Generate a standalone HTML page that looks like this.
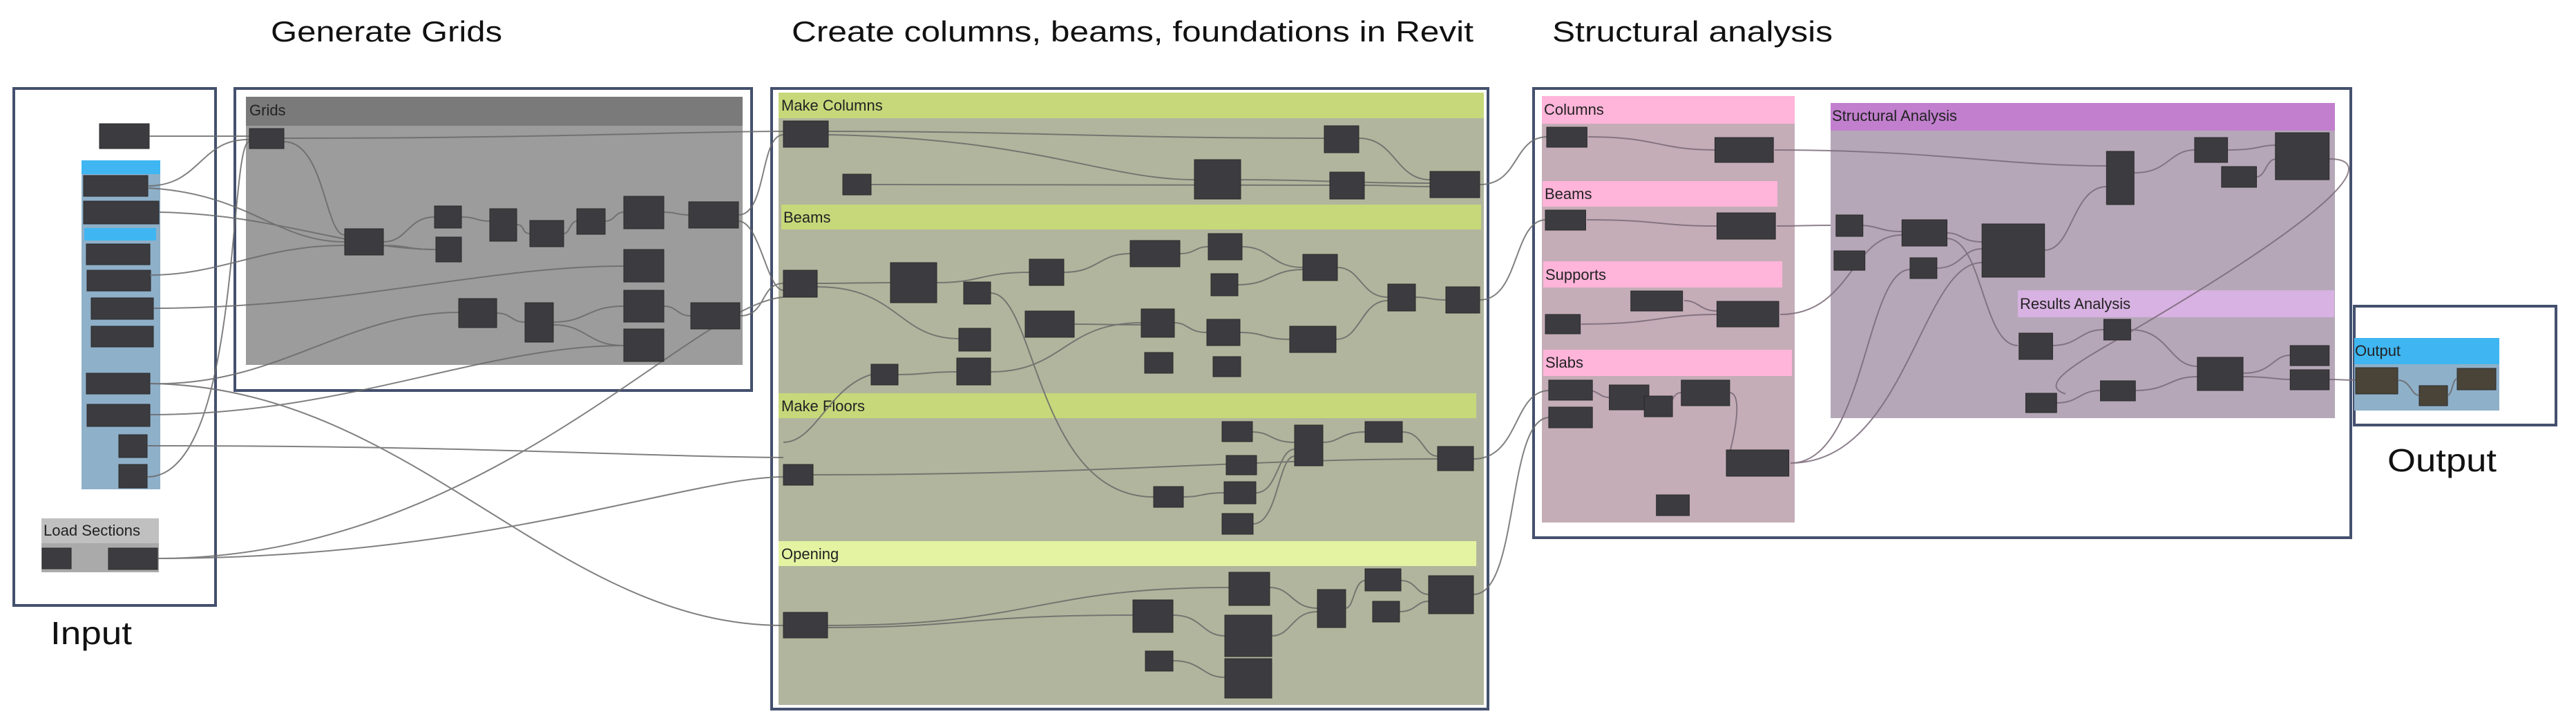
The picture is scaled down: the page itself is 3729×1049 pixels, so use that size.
<!DOCTYPE html>
<html><head><meta charset="utf-8"><style>
html,body{margin:0;padding:0;background:#fff;}
svg{display:block}
.n{fill:#3c3c40;stroke:#2a2a2a;stroke-width:1}
.w{fill:none;stroke:#6a6a6a;stroke-width:2;opacity:.85}
.wp{fill:none;stroke:#7a6a78;stroke-width:2;opacity:.85}
.t{font-family:"Liberation Sans",sans-serif;fill:#111}
.g{font-family:"Liberation Sans",sans-serif;fill:#222;font-size:22px}
</style></head><body>
<svg width="3729" height="1049" viewBox="0 0 3729 1049" xmlns="http://www.w3.org/2000/svg">
<text class="t" x="392" y="60" font-size="42" textLength="335" lengthAdjust="spacingAndGlyphs">Generate Grids</text>
<text class="t" x="1146" y="60" font-size="42" textLength="987" lengthAdjust="spacingAndGlyphs">Create columns, beams, foundations in Revit</text>
<text class="t" x="2247" y="60" font-size="42" textLength="406" lengthAdjust="spacingAndGlyphs">Structural analysis</text>
<text class="t" x="73" y="932" font-size="46" textLength="118" lengthAdjust="spacingAndGlyphs">Input</text>
<text class="t" x="3456" y="682" font-size="46" textLength="158" lengthAdjust="spacingAndGlyphs">Output</text>

<rect x="20" y="128" width="292" height="748" fill="#fff" stroke="#44506e" stroke-width="4"/>
<rect x="118" y="232" width="114" height="476" fill="#8fb0c9"/>
<rect x="118" y="232" width="114" height="20" fill="#3fb6f2"/>
<rect x="122" y="330" width="104" height="18" fill="#3fb6f2"/>
<rect x="60" y="750" width="170" height="78" fill="#aaaaaa"/>
<rect x="60" y="750" width="170" height="36" fill="#c0c0c0"/>
<text class="g" x="63" y="775" textLength="140" lengthAdjust="spacingAndGlyphs">Load Sections</text>
<g>
<rect class="n" x="144" y="179" width="72" height="36"/>
<rect class="n" x="121" y="254" width="93" height="30"/>
<rect class="n" x="121" y="291" width="109" height="33"/>
<rect class="n" x="125" y="353" width="92" height="30"/>
<rect class="n" x="126" y="391" width="92" height="30"/>
<rect class="n" x="132" y="431" width="90" height="31"/>
<rect class="n" x="132" y="472" width="90" height="30"/>
<rect class="n" x="125" y="540" width="92" height="30"/>
<rect class="n" x="126" y="585" width="91" height="32"/>
<rect class="n" x="172" y="629" width="41" height="33"/>
<rect class="n" x="172" y="672" width="41" height="34"/>
<rect class="n" x="61" y="793" width="42" height="30"/>
<rect class="n" x="157" y="793" width="71" height="31"/>
</g>

<rect x="340" y="128" width="748" height="437" fill="#fff" stroke="#44506e" stroke-width="4"/>
<rect x="356" y="140" width="719" height="388" fill="#9c9c9c"/>
<rect x="356" y="140" width="719" height="42" fill="#7a7a7a"/>
<text class="g" x="361" y="167">Grids</text>

<rect x="1117" y="128" width="1037" height="898" fill="#fff" stroke="#44506e" stroke-width="4"/>
<rect x="1127" y="134" width="1021" height="886" fill="#b2b59d"/>
<rect x="1127" y="134" width="1021" height="37" fill="#c6d87a"/>
<rect x="1131" y="296" width="1013" height="36" fill="#c6d87a"/>
<rect x="1127" y="569" width="1010" height="36" fill="#c6d87a"/>
<rect x="1127" y="783" width="1010" height="36" fill="#e4f3a2"/>
<text class="g" x="1131" y="160">Make Columns</text>
<text class="g" x="1134" y="322">Beams</text>
<text class="g" x="1131" y="595">Make Floors</text>
<text class="g" x="1131" y="809">Opening</text>

<rect x="2220" y="128" width="1183" height="650" fill="#fff" stroke="#44506e" stroke-width="4"/>
<rect x="2232" y="139" width="366" height="617" fill="#c4adb7"/>
<rect x="2232" y="139" width="366" height="40" fill="#ffb4d9"/>
<rect x="2233" y="262" width="340" height="37" fill="#ffb4d9"/>
<rect x="2234" y="378" width="346" height="38" fill="#ffb4d9"/>
<rect x="2234" y="506" width="360" height="38" fill="#ffb4d9"/>
<text class="g" x="2235" y="166">Columns</text>
<text class="g" x="2236" y="288">Beams</text>
<text class="g" x="2237" y="405">Supports</text>
<text class="g" x="2237" y="532">Slabs</text>
<rect x="2650" y="149" width="730" height="456" fill="#b5a7b8"/>
<rect x="2650" y="149" width="730" height="40" fill="#c17fcd"/>
<text class="g" x="2652" y="175">Structural Analysis</text>
<rect x="2921" y="420" width="458" height="39" fill="#d8b2e2"/>
<text class="g" x="2924" y="447">Results Analysis</text>

<rect x="3408" y="443" width="292" height="172" fill="#fff" stroke="#44506e" stroke-width="4"/>
<rect x="3408" y="489" width="210" height="105" fill="#8fb0c9"/>
<rect x="3408" y="489" width="210" height="38" fill="#3fb6f2"/>
<text class="g" x="3409" y="515" fill="#113">Output</text>

<g class="w">
<path d="M216 197 C290 197 290 197 361 197"/>
<path d="M214 269 C290 269 290 200 361 202"/>
<path d="M214 272 C360 280 400 350 499 350"/>
<path d="M230 307 C400 310 500 360 631 361"/>
<path d="M217 398 C320 398 380 355 499 355"/>
<path d="M222 446 C500 446 700 385 903 385"/>
<path d="M217 555 C400 560 500 452 664 452"/>
<path d="M217 555 C600 560 800 905 1134 905"/>
<path d="M217 600 C500 600 700 500 903 500"/>
<path d="M213 645 C700 645 900 660 1134 662"/>
<path d="M213 690 C350 690 330 205 361 205"/>
<path d="M228 808 C700 808 1000 440 1134 430"/>
<path d="M228 808 C700 808 1000 690 1134 690"/>
<path d="M411 200 C800 200 1000 190 1134 190"/>
<path d="M411 205 C470 205 470 340 499 340"/>
<path d="M555 350 C590 350 590 314 629 314"/>
<path d="M555 355 C590 355 590 361 631 361"/>
<path d="M668 314 C690 314 690 320 709 320"/>
<path d="M748 325 C760 325 755 338 767 338"/>
<path d="M816 338 C825 338 825 320 835 320"/>
<path d="M876 320 C890 320 890 307 903 307"/>
<path d="M961 307 C980 307 980 311 997 311"/>
<path d="M719 453 C740 453 740 466 760 466"/>
<path d="M801 466 C850 466 850 443 903 443"/>
<path d="M801 470 C850 470 850 500 903 500"/>
<path d="M961 443 C980 443 980 457 1000 457"/>
<path d="M1069 311 C1110 311 1100 195 1134 195"/>
<path d="M1071 457 C1110 457 1100 410 1134 410"/>
<path d="M1069 320 C1100 320 1110 420 1134 420"/>
<path d="M1199 190 C1500 190 1600 200 1917 200"/>
<path d="M1199 195 C1500 200 1600 260 1729 260"/>
<path d="M1261 267 C1500 267 1700 268 1925 268"/>
<path d="M1796 260 C1900 260 1950 265 2070 265"/>
<path d="M1967 200 C2020 200 2020 260 2070 260"/>
<path d="M1975 268 C2020 268 2020 270 2070 270"/>
<path d="M1183 410 C1230 410 1240 409 1289 409"/>
<path d="M1183 415 C1300 415 1300 490 1388 490"/>
<path d="M1356 409 C1420 409 1420 394 1490 394"/>
<path d="M1540 394 C1590 394 1590 367 1636 367"/>
<path d="M1708 367 C1730 367 1730 357 1749 357"/>
<path d="M1798 357 C1840 357 1840 387 1886 387"/>
<path d="M1792 412 C1840 412 1840 390 1886 390"/>
<path d="M1936 387 C1970 387 1970 430 2009 430"/>
<path d="M2049 430 C2070 430 2070 434 2093 434"/>
<path d="M1300 542 C1340 542 1340 538 1385 538"/>
<path d="M1434 538 C1540 538 1540 467 1652 467"/>
<path d="M1555 469 C1600 469 1600 470 1652 470"/>
<path d="M1700 467 C1720 467 1720 481 1747 481"/>
<path d="M1795 481 C1830 481 1830 491 1867 491"/>
<path d="M1934 491 C1970 491 1970 435 2009 435"/>
<path d="M1261 542 C1200 560 1180 640 1134 640"/>
<path d="M1434 424 C1500 424 1500 719 1670 719"/>
<path d="M1177 687 C1600 687 1800 664 2081 664"/>
<path d="M1813 625 C1840 625 1840 640 1874 640"/>
<path d="M1915 640 C1940 640 1940 625 1976 625"/>
<path d="M2030 625 C2060 625 2060 660 2081 660"/>
<path d="M1713 719 C1740 719 1740 713 1772 713"/>
<path d="M1818 713 C1850 713 1850 650 1874 650"/>
<path d="M1814 758 C1850 758 1850 660 1874 660"/>
<path d="M1198 905 C1500 905 1500 850 1779 850"/>
<path d="M1198 908 C1400 908 1400 890 1640 890"/>
<path d="M1698 890 C1740 890 1740 920 1773 920"/>
<path d="M1838 850 C1870 850 1870 880 1907 880"/>
<path d="M1841 920 C1870 920 1870 885 1907 885"/>
<path d="M1948 880 C1960 880 1960 840 1976 840"/>
<path d="M2028 840 C2050 840 2050 860 2068 860"/>
<path d="M2026 885 C2050 885 2050 870 2068 870"/>
<path d="M1698 956 C1740 956 1740 980 1773 980"/>
<path d="M2142 267 C2200 267 2190 198 2240 198"/>
<path d="M2142 434 C2200 434 2190 318 2238 318"/>
<path d="M2133 664 C2200 664 2190 565 2243 565"/>
<path d="M2133 860 C2200 860 2180 604 2243 604"/>
</g>
<g class="wp">
<path d="M2299 198 C2400 198 2400 217 2483 217"/>
<path d="M2297 318 C2400 318 2400 327 2486 327"/>
<path d="M2289 469 C2400 469 2400 455 2486 455"/>
<path d="M2438 435 C2460 435 2460 450 2486 450"/>
<path d="M2569 217 C2800 217 2900 240 3050 240"/>
<path d="M2572 327 C2610 327 2610 326 2650 326"/>
<path d="M2577 455 C2680 455 2680 340 2753 340"/>
<path d="M2592 670 C2700 670 2700 390 2765 390"/>
<path d="M2592 670 C2760 670 2780 380 2869 380"/>
<path d="M2689 326 C2720 326 2720 335 2753 335"/>
<path d="M2818 337 C2840 337 2840 350 2869 350"/>
<path d="M2803 388 C2840 388 2840 360 2869 360"/>
<path d="M2960 362 C3000 362 3000 270 3050 270"/>
<path d="M3090 250 C3140 250 3140 217 3177 217"/>
<path d="M3225 217 C3270 217 3270 210 3295 210"/>
<path d="M3266 256 C3280 256 3280 230 3295 230"/>
<path d="M2818 345 C2870 345 2870 500 2921 500"/>
<path d="M2970 500 C3010 500 3010 477 3045 477"/>
<path d="M3084 477 C3140 477 3140 530 3181 530"/>
<path d="M2977 583 C3010 583 3010 565 3041 565"/>
<path d="M3091 565 C3140 565 3140 545 3181 545"/>
<path d="M3247 540 C3290 540 3290 514 3315 514"/>
<path d="M3247 545 C3290 545 3290 549 3315 549"/>
<path d="M3372 549 C3390 549 3390 550 3410 550"/>
<path d="M3372 230 C3430 230 3430 280 3050 500 C2980 540 2960 560 2990 570"/>
<path d="M2298 565 C2315 565 2315 575 2330 575"/>
<path d="M2414 588 C2420 588 2420 568 2434 568"/>
<path d="M2503 568 C2530 568 2500 670 2500 670"/>
</g>

<g>
<rect class="n" x="361" y="186" width="50" height="29"/>
<rect class="n" x="499" y="331" width="56" height="38"/>
<rect class="n" x="629" y="298" width="39" height="32"/>
<rect class="n" x="631" y="343" width="37" height="36"/>
<rect class="n" x="709" y="302" width="39" height="47"/>
<rect class="n" x="767" y="319" width="49" height="38"/>
<rect class="n" x="835" y="302" width="41" height="37"/>
<rect class="n" x="903" y="284" width="58" height="47"/>
<rect class="n" x="997" y="292" width="72" height="38"/>
<rect class="n" x="903" y="361" width="58" height="47"/>
<rect class="n" x="903" y="420" width="58" height="46"/>
<rect class="n" x="903" y="476" width="58" height="47"/>
<rect class="n" x="664" y="432" width="55" height="42"/>
<rect class="n" x="760" y="438" width="41" height="57"/>
<rect class="n" x="1000" y="438" width="71" height="38"/>
</g>
<g>
<rect class="n" x="1134" y="175" width="65" height="38"/>
<rect class="n" x="1220" y="252" width="41" height="30"/>
<rect class="n" x="1729" y="231" width="67" height="57"/>
<rect class="n" x="1917" y="182" width="50" height="39"/>
<rect class="n" x="1925" y="249" width="50" height="39"/>
<rect class="n" x="2070" y="248" width="72" height="38"/>
<rect class="n" x="1134" y="391" width="49" height="39"/>
<rect class="n" x="1289" y="380" width="67" height="58"/>
<rect class="n" x="1395" y="408" width="39" height="32"/>
<rect class="n" x="1490" y="375" width="50" height="38"/>
<rect class="n" x="1636" y="348" width="72" height="38"/>
<rect class="n" x="1749" y="338" width="49" height="38"/>
<rect class="n" x="1753" y="396" width="39" height="32"/>
<rect class="n" x="1886" y="368" width="50" height="38"/>
<rect class="n" x="2009" y="411" width="40" height="39"/>
<rect class="n" x="2093" y="415" width="49" height="38"/>
<rect class="n" x="1388" y="475" width="46" height="33"/>
<rect class="n" x="1484" y="450" width="71" height="38"/>
<rect class="n" x="1652" y="447" width="48" height="41"/>
<rect class="n" x="1747" y="462" width="48" height="38"/>
<rect class="n" x="1867" y="472" width="67" height="38"/>
<rect class="n" x="1657" y="510" width="41" height="30"/>
<rect class="n" x="1756" y="516" width="40" height="29"/>
<rect class="n" x="1261" y="527" width="39" height="30"/>
<rect class="n" x="1385" y="518" width="49" height="39"/>
<rect class="n" x="1769" y="610" width="44" height="29"/>
<rect class="n" x="1874" y="615" width="41" height="59"/>
<rect class="n" x="1976" y="610" width="54" height="30"/>
<rect class="n" x="1134" y="672" width="43" height="30"/>
<rect class="n" x="1775" y="659" width="44" height="28"/>
<rect class="n" x="2081" y="646" width="52" height="35"/>
<rect class="n" x="1670" y="704" width="43" height="30"/>
<rect class="n" x="1772" y="697" width="46" height="32"/>
<rect class="n" x="1769" y="743" width="45" height="30"/>
<rect class="n" x="1134" y="886" width="64" height="37"/>
<rect class="n" x="1779" y="828" width="59" height="48"/>
<rect class="n" x="1976" y="823" width="52" height="32"/>
<rect class="n" x="2068" y="833" width="65" height="55"/>
<rect class="n" x="1640" y="868" width="58" height="47"/>
<rect class="n" x="1907" y="853" width="41" height="55"/>
<rect class="n" x="1987" y="870" width="39" height="30"/>
<rect class="n" x="1773" y="890" width="68" height="60"/>
<rect class="n" x="1658" y="942" width="40" height="29"/>
<rect class="n" x="1773" y="953" width="68" height="57"/>
</g>
<g transform="matrix(0.974,0,0,1,2200,0)">
<rect class="n" x="40" y="184" width="60" height="29"/>
<rect class="n" x="290" y="199" width="87" height="36"/>
<rect class="n" x="38" y="304" width="60" height="29"/>
<rect class="n" x="293" y="308" width="87" height="38"/>
<rect class="n" x="165" y="421" width="77" height="29"/>
<rect class="n" x="38" y="455" width="52" height="28"/>
<rect class="n" x="293" y="436" width="92" height="37"/>
<rect class="n" x="43" y="550" width="65" height="29"/>
<rect class="n" x="43" y="589" width="65" height="30"/>
<rect class="n" x="133" y="557" width="59" height="36"/>
<rect class="n" x="185" y="573" width="42" height="30"/>
<rect class="n" x="240" y="550" width="72" height="37"/>
<rect class="n" x="307" y="651" width="93" height="38"/>
<rect class="n" x="203" y="716" width="49" height="30"/>
<rect class="n" x="470" y="311" width="40" height="31"/>
<rect class="n" x="467" y="363" width="46" height="28"/>
<rect class="n" x="568" y="318" width="67" height="38"/>
<rect class="n" x="580" y="373" width="40" height="30"/>
<rect class="n" x="687" y="324" width="93" height="77"/>
<rect class="n" x="872" y="219" width="41" height="77"/>
<rect class="n" x="1003" y="199" width="49" height="36"/>
<rect class="n" x="1043" y="241" width="52" height="30"/>
<rect class="n" x="1123" y="192" width="80" height="68"/>
<rect class="n" x="742" y="482" width="50" height="38"/>
<rect class="n" x="868" y="462" width="40" height="30"/>
<rect class="n" x="752" y="569" width="46" height="28"/>
<rect class="n" x="863" y="551" width="52" height="29"/>
<rect class="n" x="1007" y="517" width="68" height="48"/>
<rect class="n" x="1145" y="500" width="58" height="29"/>
<rect class="n" x="1145" y="535" width="58" height="29"/>
</g>
<rect x="3410" y="532" width="61" height="38" fill="#4a4438" stroke="#2a2a2a"/>
<rect x="3502" y="558" width="41" height="29" fill="#4a4438" stroke="#2a2a2a"/>
<rect x="3557" y="533" width="56" height="31" fill="#4a4438" stroke="#2a2a2a"/>
<path d="M3471 550 C3490 550 3490 572 3502 572" class="w"/>
<path d="M3543 572 C3550 572 3550 548 3557 548" class="w"/>
</svg>
</body></html>
